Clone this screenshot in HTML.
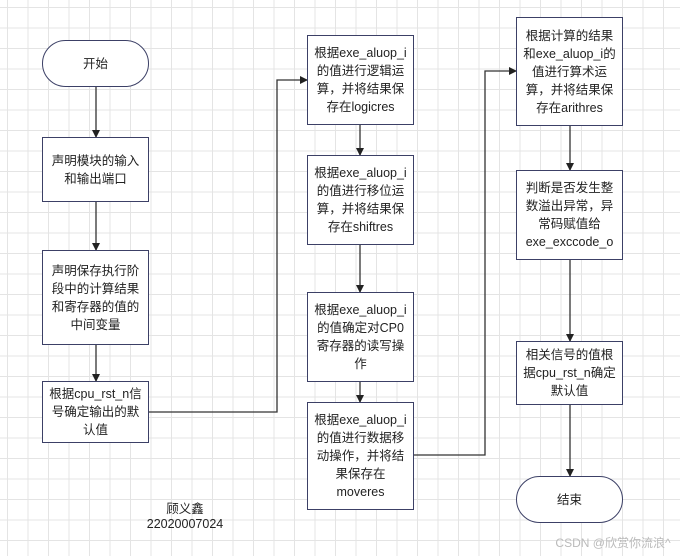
<!DOCTYPE html>
<html><head><meta charset="utf-8"><style>
body{margin:0;width:680px;height:556px;overflow:hidden;background:#fff;
background-image:linear-gradient(#e4e4e4 1px,transparent 1px),linear-gradient(90deg,#e4e4e4 1px,transparent 1px);
background-size:20.5px 20.5px;background-position:7px 7px;font-family:"Liberation Sans","Noto Sans CJK SC",sans-serif;position:relative}
.b{position:absolute;box-sizing:border-box;border:1.3px solid #3c4066;background:#fff;display:flex;align-items:center;justify-content:center;text-align:center;font-size:12.5px;line-height:18px;color:#222;padding:0 3px}
.o{border-radius:24px}
.t{position:absolute;font-size:12.5px;color:#222;text-align:center}
svg{position:absolute;left:0;top:0}
</style></head><body>
<svg width="680" height="556">
<defs><marker id="a" markerWidth="8" markerHeight="8" refX="7" refY="4" orient="auto" markerUnits="userSpaceOnUse"><path d="M0,0L8,4L0,8z" fill="#222"/></marker></defs>
<g stroke="#333" stroke-width="1.3" fill="none" marker-end="url(#a)">
<path d="M96,86V137"/><path d="M96,202V250"/><path d="M96,345V381"/>
<path d="M149,412H277V80H307"/>
<path d="M360,125V155"/><path d="M360,245V292"/><path d="M360,382V402"/>
<path d="M414,455H485V71H516"/>
<path d="M570,126V170"/><path d="M570,260V341"/><path d="M570,405V476"/>
</g></svg>
<div class="b o" style="left:42px;top:40px;width:107px;height:47px">开始</div>
<div class="b" style="left:42px;top:137px;width:107px;height:65px">声明模块的输入<br>和输出端口</div>
<div class="b" style="left:42px;top:250px;width:107px;height:95px">声明保存执行阶<br>段中的计算结果<br>和寄存器的值的<br>中间变量</div>
<div class="b" style="left:42px;top:381px;width:107px;height:62px">根据cpu_rst_n信<br>号确定输出的默<br>认值</div>
<div class="b" style="left:307px;top:35px;width:107px;height:90px">根据exe_aluop_i<br>的值进行逻辑运<br>算，并将结果保<br>存在logicres</div>
<div class="b" style="left:307px;top:155px;width:107px;height:90px">根据exe_aluop_i<br>的值进行移位运<br>算，并将结果保<br>存在shiftres</div>
<div class="b" style="left:307px;top:292px;width:107px;height:90px">根据exe_aluop_i<br>的值确定对CP0<br>寄存器的读写操<br>作</div>
<div class="b" style="left:307px;top:402px;width:107px;height:108px">根据exe_aluop_i<br>的值进行数据移<br>动操作，并将结<br>果保存在<br>moveres</div>
<div class="b" style="left:516px;top:17px;width:107px;height:109px">根据计算的结果<br>和exe_aluop_i的<br>值进行算术运<br>算，并将结果保<br>存在arithres</div>
<div class="b" style="left:516px;top:170px;width:107px;height:90px">判断是否发生整<br>数溢出异常，异<br>常码赋值给<br>exe_exccode_o</div>
<div class="b" style="left:516px;top:341px;width:107px;height:64px">相关信号的值根<br>据cpu_rst_n确定<br>默认值</div>
<div class="b o" style="left:516px;top:476px;width:107px;height:47px">结束</div>
<div class="t" style="left:135px;top:498px;width:100px">顾义鑫</div>
<div class="t" style="left:135px;top:517px;width:100px">22020007024</div>
<div class="t" style="left:548px;top:534px;width:130px;color:#bbb;font-size:12px">CSDN @欣赏你流浪^</div>
</body></html>
